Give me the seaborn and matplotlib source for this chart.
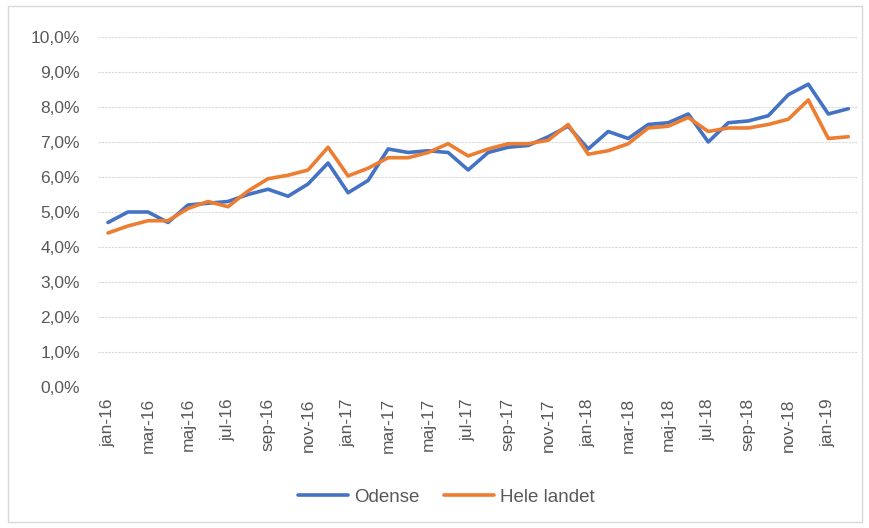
import pandas as pd
import matplotlib.pyplot as plt
import seaborn as sns
from matplotlib.patches import Rectangle

# monthly data jan-16 .. feb-19
months = ["jan", "feb", "mar", "apr", "maj", "jun",
          "jul", "aug", "sep", "okt", "nov", "dec"]
labels = [f"{m}-{y}" for y in ["16", "17", "18"] for m in months] + ["jan-19", "feb-19"]

odense = [4.7, 5.0, 5.0, 4.7, 5.2, 5.25, 5.3, 5.5, 5.65, 5.45, 5.8, 6.4,
          5.55, 5.9, 6.8, 6.7, 6.75, 6.7, 6.2, 6.7, 6.85, 6.9, 7.15, 7.45,
          6.8, 7.3, 7.1, 7.5, 7.55, 7.8, 7.0, 7.55, 7.6, 7.75, 8.35, 8.65,
          7.8, 7.95]
hele_landet = [4.4, 4.6, 4.75, 4.75, 5.1, 5.3, 5.15, 5.6, 5.95, 6.05, 6.2, 6.85,
               6.03, 6.25, 6.55, 6.55, 6.7, 6.95, 6.6, 6.8, 6.95, 6.95, 7.05, 7.5,
               6.65, 6.75, 6.95, 7.4, 7.45, 7.7, 7.3, 7.4, 7.4, 7.5, 7.65, 8.2,
               7.1, 7.15]

df = pd.DataFrame({
    "idx": list(range(len(labels))) * 2,
    "value": odense + hele_landet,
    "serie": ["Odense"] * len(labels) + ["Hele landet"] * len(labels),
})

sns.set_style("white")
plt.rcParams["font.family"] = ["Liberation Sans", "DejaVu Sans"]

fig = plt.figure(figsize=(8.7, 5.28), dpi=100)
ax = fig.add_axes([0.1126, 0.267, 0.874, 0.663])

sns.lineplot(data=df, x="idx", y="value", hue="serie",
             palette={"Odense": "#4472C4", "Hele landet": "#ED7D31"},
             linewidth=2.6, ax=ax, legend=True)

ax.set_xlim(-0.5, len(labels) - 0.5)
ax.set_ylim(0, 10)
ax.set_yticks(range(0, 11))
ax.set_yticklabels([f"{v},0%" for v in range(0, 11)], color="#595959", fontsize=12.5)
ax.set_xticks(range(0, len(labels), 2))
ax.set_xticklabels(labels[::2], rotation=90, color="#595959", fontsize=12.5)
ax.tick_params(axis="y", length=0, pad=13)
ax.tick_params(axis="x", length=0, pad=8)
ax.set_xlabel("")
ax.set_ylabel("")
ax.grid(axis="y", color="#D9D9D9", linewidth=0.8, linestyle=(0, (2, 1)))
for s in ax.spines.values():
    s.set_visible(False)

handles, lbls = ax.get_legend_handles_labels()
ax.legend(handles, lbls, loc="center", bbox_to_anchor=(0.513, 0.058),
          bbox_transform=fig.transFigure, ncol=2, frameon=False,
          fontsize=13.5, handlelength=2.7, handletextpad=0.3, columnspacing=1.3,
          labelcolor="#595959")

fig.patches.append(Rectangle((0.009, 0.012), 0.982, 0.976, transform=fig.transFigure,
                             fill=False, edgecolor="#D9D9D9", linewidth=1))

fig.savefig("out.png", dpi=100)
